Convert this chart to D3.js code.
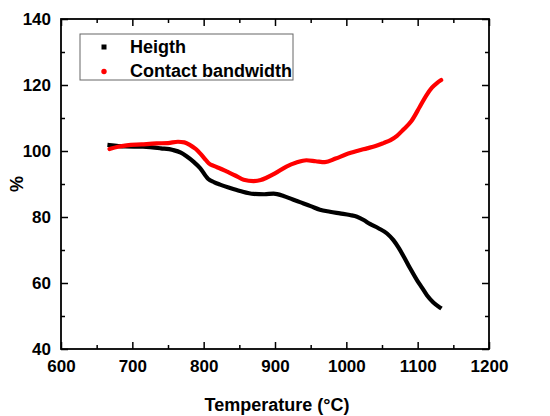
<!DOCTYPE html>
<html>
<head>
<meta charset="utf-8">
<script src="https://cdn.jsdelivr.net/npm/d3@7"></script>
<style>
  html, body { margin: 0; padding: 0; background: #fff; }
  svg { display: block; font-family: "Liberation Sans", Arial, sans-serif; }
</style>
</head>
<body>
<svg id="chart" width="550" height="416"></svg>
<script>
// ---- data ----
const heightTemp = [668, 690, 715, 740, 757, 768, 776, 786, 795, 806, 815, 823, 837, 851, 870, 885, 898, 912, 925, 935, 950, 963, 977, 991, 1005, 1015, 1025, 1033, 1045, 1057, 1066, 1073, 1081, 1089, 1099, 1106, 1113, 1122, 1131];
const heightVal  = [101.8, 101.4, 101.3, 100.8, 100.3, 99.5, 98.4, 96.7, 94.8, 91.6, 90.5, 89.8, 88.8, 87.9, 87.0, 86.9, 87.1, 86.4, 85.3, 84.5, 83.3, 82.2, 81.6, 81.1, 80.6, 80.1, 79.0, 77.9, 76.6, 75.0, 73.0, 70.8, 67.8, 64.6, 60.9, 58.6, 56.3, 54.1, 52.6];
const contactTemp = [668, 680, 692, 713, 734, 750, 764, 773, 781, 789, 795, 801, 807, 815, 823, 832, 845, 856, 870, 880, 888, 900, 916, 930, 944, 957, 970, 985, 1000, 1015, 1029, 1041, 1052, 1062, 1071, 1080, 1091, 1103, 1112, 1120, 1127, 1133];
const contactVal  = [100.6, 101.3, 101.7, 102.0, 102.3, 102.4, 102.8, 102.6, 101.8, 100.6, 99.3, 97.8, 96.3, 95.4, 94.7, 93.8, 92.5, 91.3, 90.9, 91.2, 91.9, 93.2, 95.3, 96.5, 97.2, 96.9, 96.6, 97.7, 99.0, 100.0, 100.8, 101.5, 102.4, 103.3, 104.6, 106.5, 109.0, 113.4, 116.8, 119.2, 120.6, 121.5];
const xTicks = [600, 700, 800, 900, 1000, 1100, 1200];
const xMinorTicks = [650, 750, 850, 950, 1050, 1150];
const yTicks = [40, 60, 80, 100, 120, 140];
const yMinorTicks = [50, 70, 90, 110, 130];
const seriesNames = ["Heigth", "Contact bandwidth"];
const seriesColors = ["#000000", "#ff0000"];
const xTitle = "Temperature (°C)";
const yTitle = "%";

// ---- layout ----
const L = 61, R = 489, T = 19, B = 349;
const svg = d3.select("#chart");
const x = d3.scaleLinear().domain([600, 1200]).range([L, R]);
const y = d3.scaleLinear().domain([40, 140]).range([B, T]);

const fontTick = "17px";
const fmt = d3.format("d");

// axes: bottom
svg.append("g").attr("transform", `translate(0,${B})`)
  .call(d3.axisBottom(x).tickValues(xTicks).tickFormat(fmt).tickSizeInner(-7).tickSizeOuter(0).tickPadding(11));
svg.append("g").attr("transform", `translate(0,${B})`)
  .call(d3.axisBottom(x).tickValues(xMinorTicks).tickSizeInner(-4).tickSizeOuter(0).tickFormat(""));
// top
svg.append("g").attr("transform", `translate(0,${T})`)
  .call(d3.axisTop(x).tickValues(xTicks).tickSizeInner(-7).tickSizeOuter(0).tickFormat(""));
svg.append("g").attr("transform", `translate(0,${T})`)
  .call(d3.axisTop(x).tickValues(xMinorTicks).tickSizeInner(-4).tickSizeOuter(0).tickFormat(""));
// left
svg.append("g").attr("transform", `translate(${L},0)`)
  .call(d3.axisLeft(y).tickValues(yTicks).tickFormat(fmt).tickSizeInner(-7).tickSizeOuter(0).tickPadding(10));
svg.append("g").attr("transform", `translate(${L},0)`)
  .call(d3.axisLeft(y).tickValues(yMinorTicks).tickSizeInner(-4).tickSizeOuter(0).tickFormat(""));
// right
svg.append("g").attr("transform", `translate(${R},0)`)
  .call(d3.axisRight(y).tickValues(yTicks).tickSizeInner(-7).tickSizeOuter(0).tickFormat(""));
svg.append("g").attr("transform", `translate(${R},0)`)
  .call(d3.axisRight(y).tickValues(yMinorTicks).tickSizeInner(-4).tickSizeOuter(0).tickFormat(""));

svg.selectAll(".domain").remove();
svg.selectAll(".tick line").attr("stroke", "#000").attr("stroke-width", 1.5);
svg.selectAll(".tick text")
  .attr("fill", "#000")
  .style("font-family", '"Liberation Sans", Arial, sans-serif')
  .style("font-size", fontTick)
  .style("font-weight", "bold");

// frame
svg.append("rect")
  .attr("x", L).attr("y", T).attr("width", R - L).attr("height", B - T)
  .attr("fill", "none").attr("stroke", "#000").attr("stroke-width", 1.8);

// series
const line = d3.line().curve(d3.curveMonotoneX);
const hPts = heightTemp.map((t, i) => [x(t), y(heightVal[i])]);
const cPts = contactTemp.map((t, i) => [x(t), y(contactVal[i])]);
svg.append("path").attr("d", line(hPts)).attr("fill", "none")
  .attr("stroke", seriesColors[0]).attr("stroke-width", 4.2).attr("stroke-linecap", "square")
  .attr("stroke-linejoin", "round");
svg.append("path").attr("d", line(cPts)).attr("fill", "none")
  .attr("stroke", seriesColors[1]).attr("stroke-width", 4.2).attr("stroke-linecap", "round")
  .attr("stroke-linejoin", "round");

// axis titles
svg.append("text")
  .attr("x", (L + R) / 2 + 2).attr("y", 411)
  .attr("text-anchor", "middle")
  .style("font-size", "18px").style("font-weight", "bold")
  .text(xTitle);
svg.append("text")
  .attr("transform", `translate(23,${(T + B) / 2}) rotate(-90)`)
  .attr("text-anchor", "middle")
  .style("font-size", "18px").style("font-weight", "bold")
  .text(yTitle);

// legend
const lg = svg.append("g");
lg.append("rect").attr("x", 80).attr("y", 34).attr("width", 213).attr("height", 46)
  .attr("fill", "#fff").attr("stroke", "#666").attr("stroke-width", 1);
lg.append("rect").attr("x", 101.5).attr("y", 44.5).attr("width", 5).attr("height", 5)
  .attr("fill", seriesColors[0]);
lg.append("circle").attr("cx", 104).attr("cy", 71.5).attr("r", 2.7)
  .attr("fill", seriesColors[1]);
lg.selectAll("text.leg").data(seriesNames).enter().append("text")
  .attr("class", "leg")
  .attr("x", 130).attr("y", (d, i) => 53 + i * 23.5)
  .style("font-size", "18px").style("font-weight", "bold")
  .text(d => d);
</script>
</body>
</html>
